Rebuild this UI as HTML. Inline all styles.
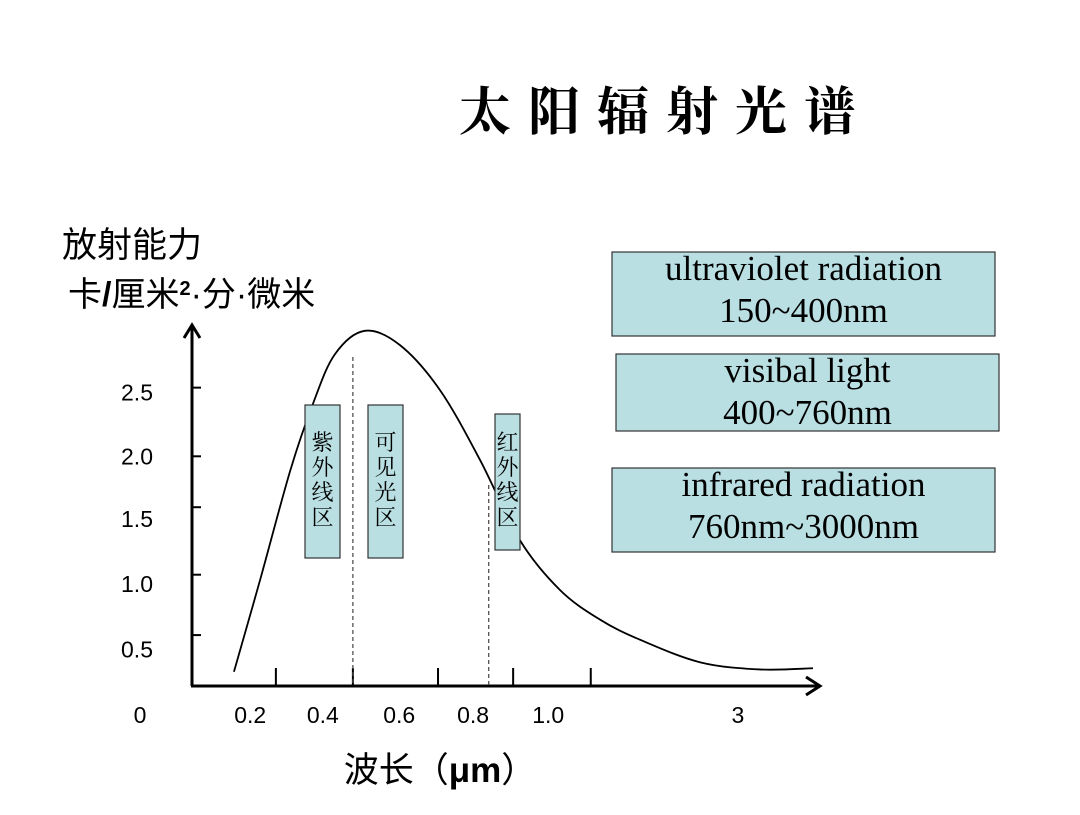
<!DOCTYPE html>
<html><head><meta charset="utf-8"><style>
body{margin:0;background:#fff;}
svg text{font-family:"Liberation Sans","Noto Sans CJK SC",sans-serif;}
.serif{font-family:"Liberation Serif","Noto Serif CJK SC",serif !important;}
</style></head><body>
<svg id="chart" width="1080" height="810" viewBox="0 0 1080 810" xmlns="http://www.w3.org/2000/svg">
<text x="666" y="130" font-size="52" letter-spacing="17" font-weight="bold" text-anchor="middle" style="font-family:'Noto Serif CJK SC','WenQuanYi Zen Hei',serif">太阳辐射光谱</text>
<text x="62" y="257" font-size="35">放射能力</text>
<text x="68" y="306" font-size="34">卡<tspan font-weight="bold">/</tspan>厘米<tspan font-size="20" dy="-11" font-weight="bold">2</tspan><tspan dy="11">·分·微米</tspan></text>
<text x="440" y="782" font-size="35" text-anchor="middle">波长（<tspan font-weight="bold">μm</tspan>）</text>
<g id="axes"></g>
<g id="marks"></g>
<g id="boxes"></g>
</svg>
<script>
const yTickValues=[0.43,0.94,1.51,1.94,2.52];
const yLabelValues=[0.31,0.86,1.41,1.94,2.48];
const yTickLabels=["0.5","1.0","1.5","2.0","2.5"];
const xTickPositions=[13.4,25.7,39.3,51.3,63.7];
const xLabelPositions=[9.3,20.9,33.1,44.9,56.9,87.2];
const xLabels=["0.2","0.4","0.6","0.8","1.0","3"];
const dividerPositions=[25.7,47.4];
const curveX=[6.7,10.9,15.7,19.3,22.8,27.6,33.2,39.6,46.0,52.4,58.8,65.2,71.6,81.2,90.7,99.2];
const curveY=[0.12,0.90,1.82,2.38,2.80,3.00,2.88,2.50,1.91,1.23,0.81,0.56,0.39,0.20,0.14,0.15];

const NS="http://www.w3.org/2000/svg";
const x0=192,x1=818,y0=686;
function xs(u){return x0+u*(x1-x0)/100;}
function ys(v){return y0-v*118.4;}
function mk(tag,attrs,parent){const e=document.createElementNS(NS,tag);for(const k in attrs)e.setAttribute(k,attrs[k]);parent.appendChild(e);return e;}
const axes=document.getElementById('axes'),marks=document.getElementById('marks'),boxes=document.getElementById('boxes');

let a=mk('line',{x1:x0,y1:y0,x2:x0,y2:326,stroke:'#000','stroke-width':3},axes);


a=mk('path',{d:`M${x0-8},${338} L${x0},${325} L${x0+8},${338}`,fill:'none',stroke:'#000','stroke-width':3},axes);


a=mk('line',{x1:x0-1,y1:y0,x2:x1+2,y2:y0,stroke:'#000','stroke-width':3},axes);


a=mk('path',{d:`M${x1-12},${y0-9} L${x1+2},${y0} L${x1-12},${y0+9}`,fill:'none',stroke:'#000','stroke-width':3},axes);



yTickValues.forEach((v,i)=>{
 const t=mk('line',{x1:x0,y1:ys(v),x2:x0+9,y2:ys(v),stroke:'#000','stroke-width':2},axes);
 
 
 const l=mk('text',{x:153,y:ys(yLabelValues[i])+8,'font-size':23,'text-anchor':'end'},axes);
 l.textContent=yTickLabels[i];
 
 
});
let z=mk('text',{x:140,y:723,'font-size':23,'text-anchor':'middle'},axes);
z.textContent='0';


xTickPositions.forEach(u=>{
 const t=mk('line',{x1:xs(u),y1:y0,x2:xs(u),y2:y0-18,stroke:'#000','stroke-width':2},axes);
 
 
});
xLabelPositions.forEach((u,i)=>{
 const l=mk('text',{x:xs(u),y:723,'font-size':23,'text-anchor':'middle'},axes);
 l.textContent=xLabels[i];
 
 
});
const dTop=[357,485];
dividerPositions.forEach((u,i)=>{
 const d=mk('line',{x1:xs(u),y1:dTop[i],x2:xs(u),y2:y0,stroke:'#444','stroke-width':1.2,'stroke-dasharray':'4,3'},marks);
 
 
});
const P=curveX.map((u,i)=>[xs(u),ys(curveY[i])]);
let d=`M${P[0][0]},${P[0][1]}`;
for(let i=0;i<P.length-1;i++){
 const p0=P[Math.max(0,i-1)],p1=P[i],p2=P[i+1],p3=P[Math.min(P.length-1,i+2)];
 d+=` C${p1[0]+(p2[0]-p0[0])/6},${p1[1]+(p2[1]-p0[1])/6} ${p2[0]-(p3[0]-p1[0])/6},${p2[1]-(p3[1]-p1[1])/6} ${p2[0]},${p2[1]}`;
}
const c=mk('path',{d:d,fill:'none',stroke:'#000','stroke-width':1.8},marks);



const vbox=[[305,405,35,153,['紫','外','线','区'],'uv-region-box'],[368,405,35,153,['可','见','光','区'],'visible-region-box'],[495,414,25,136,['红','外','线','区'],'ir-region-box']];
vbox.forEach(b=>{
 const g=mk('g',{},boxes);
 
 
 mk('rect',{x:b[0],y:b[1],width:b[2],height:b[3],fill:'#b9dfe2',stroke:'#333','stroke-width':1.2},g);
 const top=450;
 b[4].forEach((ch,i)=>{const t=mk('text',{x:b[0]+b[2]/2,y:top+i*25,'font-size':22,'text-anchor':'middle'},g);t.setAttribute('style',"font-family:'Noto Serif CJK SC',serif");t.textContent=ch;});
});
const lbox=[[612,252,383,84,'ultraviolet radiation','150~400nm','uv-legend-box'],[616,354,383,77,'visibal light','400~760nm','visible-legend-box'],[612,468,383,84,'infrared radiation','760nm~3000nm','ir-legend-box']];
lbox.forEach(b=>{
 const g=mk('g',{},boxes);
 
 
 mk('rect',{x:b[0],y:b[1],width:b[2],height:b[3],fill:'#b9dfe2',stroke:'#333','stroke-width':1.2},g);
 const t1=mk('text',{x:b[0]+b[2]/2,y:b[1]+28,'font-size':35,'text-anchor':'middle',class:'serif'},g);t1.textContent=b[4];
 const t2=mk('text',{x:b[0]+b[2]/2,y:b[1]+70,'font-size':35,'text-anchor':'middle',class:'serif'},g);t2.textContent=b[5];
});
</script>
</body></html>
